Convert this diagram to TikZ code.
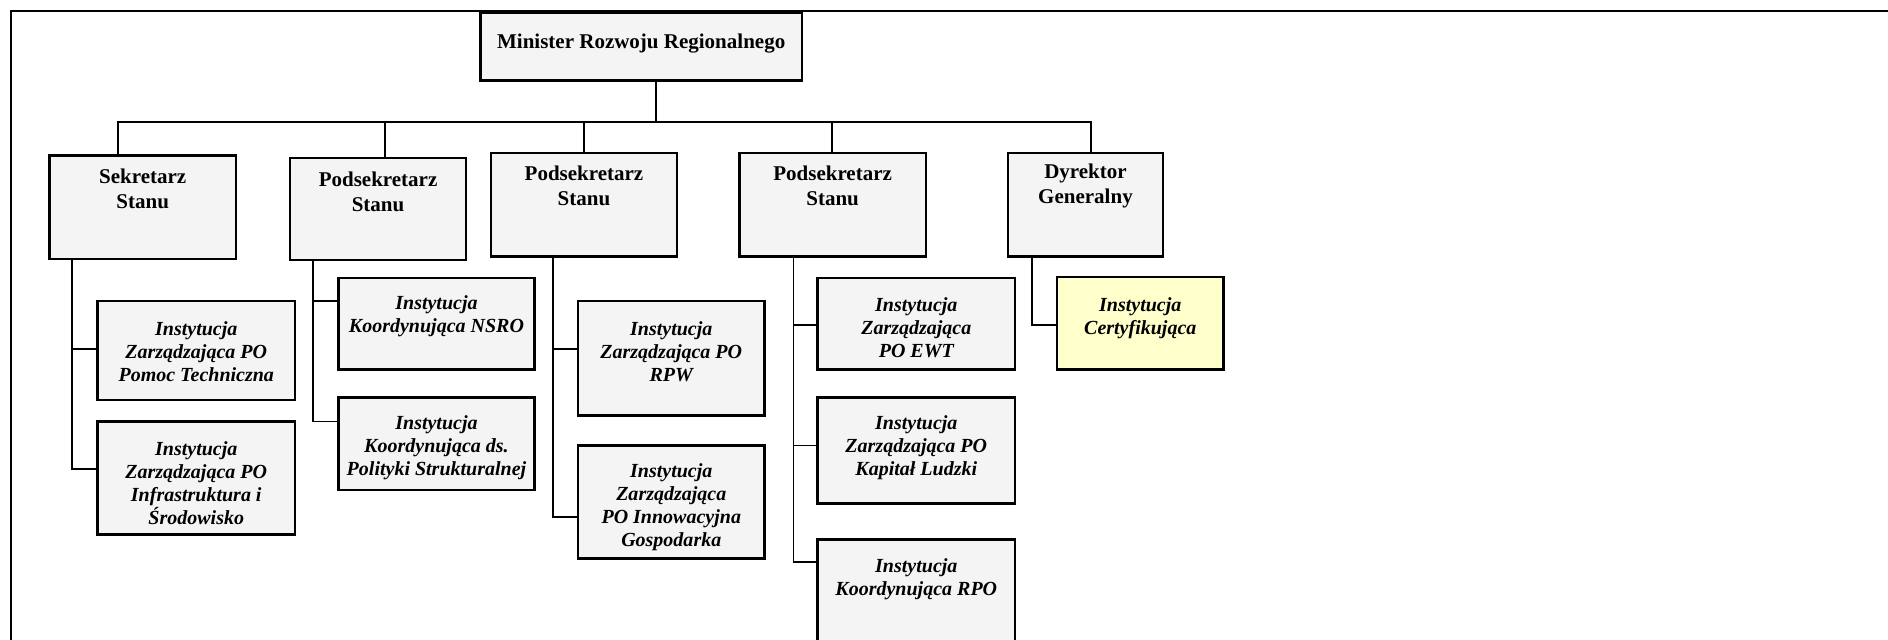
\documentclass[tikz,border=0pt]{standalone}
\usepackage{fontspec}
\setmainfont{Liberation Serif}
\usetikzlibrary{fit}
\definecolor{boxgray}{HTML}{F4F4F4}
\definecolor{certyellow}{HTML}{FFFFCC}
\tikzset{
  box/.style={draw, line width=2.4pt, fill=boxgray, inner sep=0pt},
  certbox/.style={box, fill=certyellow},
  hdr/.style={font=\fontsize{21}{25}\selectfont\bfseries, align=center, inner sep=0pt},
  inst/.style={font=\fontsize{20}{23}\selectfont\bfseries\itshape, align=center, inner sep=0pt},
  conn/.style={line width=1.8pt},
  frame/.style={line width=2pt}
}
\begin{document}
\begin{tikzpicture}[x=1.204pt,y=-1.204pt]
\useasboundingbox (0,0) rectangle (1568,531);
\clip (0,0) rectangle (1568,531);
% frame
\coordinate (fTL) at (9,9);
\coordinate (fTR) at (1570,9);
\coordinate (fBL) at (9,535);
\draw[frame] (fBL) -- (fTL) -- (fTR);
% boxes
\node[box, fit={(399,11)(666,67)}] (min) {};
\node[box, fit={(41,129)(196,215)}] (sek) {};
\node[box, fit={(241,131)(387,216)}] (p1) {};
\node[box, fit={(408,127)(562,213)}] (p2) {};
\node[box, fit={(614,127)(769,213)}] (p3) {};
\node[box, fit={(837,127)(966,213)}] (dyr) {};
\node[box, fit={(81,250)(245,332)}] (c11) {};
\node[box, fit={(81,350)(245,444)}] (c12) {};
\node[box, fit={(281,231)(444,307)}] (c21) {};
\node[box, fit={(281,330)(444,407)}] (c22) {};
\node[box, fit={(480,250)(635,345)}] (c31) {};
\node[box, fit={(480,370)(635,464)}] (c32) {};
\node[box, fit={(679,231)(843,307)}] (c41) {};
\node[box, fit={(679,330)(843,418)}] (c42) {};
\node[box, fit={(679,448)(843,560)}] (c43) {};
\node[certbox, fit={(878,230)(1016,307)}] (c51) {};
% texts
\node[hdr] (tmin) at (532.5,36) {Minister Rozwoju Regionalnego};
\node[hdr] (tsek) at (118.5,157) {Sekretarz\\Stanu};
\node[hdr] (tp1) at (314,159) {Podsekretarz\\Stanu};
\node[hdr] (tp2) at (485,154.5) {Podsekretarz\\Stanu};
\node[hdr] (tp3) at (691.5,154.5) {Podsekretarz\\Stanu};
\node[hdr] (tdyr) at (901.5,154.5) {Dyrektor\\Generalny};
\node[inst] (t11) at (163,292) {Instytucja\\Zarządzająca PO\\Pomoc Techniczna};
\node[inst] (t12) at (163,401) {Instytucja\\Zarządzająca PO\\Infrastruktura i\\Środowisko};
\node[inst] (t21) at (362.5,263) {Instytucja\\Koordynująca NSRO};
\node[inst] (t22) at (362.5,372) {Instytucja\\Koordynująca ds.\\Polityki Strukturalnej};
\node[inst] (t31) at (557.5,292) {Instytucja\\Zarządzająca PO\\RPW};
\node[inst] (t32) at (557.5,421) {Instytucja\\Zarządzająca\\PO Innowacyjna\\Gospodarka};
\node[inst] (t41) at (761,272) {Instytucja\\Zarządzająca\\PO EWT};
\node[inst] (t42) at (761,372) {Instytucja\\Zarządzająca PO\\Kapitał Ludzki};
\node[inst] (t43) at (761,481) {Instytucja\\Koordynująca RPO};
\node[inst] (t51) at (947,264.5) {Instytucja\\Certyfikująca};
% top bus
\coordinate (busL) at (98,101);
\coordinate (busR) at (906,101);
\draw[conn] ([xshift=14.5pt]min.south) -- ([xshift=14.5pt]min.south |- busL);
\draw[conn] ([xshift=-24.7pt]sek.north) |- (busR) -- (busR |- dyr.north);
\draw[conn] ([xshift=7.2pt]p1.north) -- ([xshift=7.2pt]p1.north |- busL);
\draw[conn] (p2.north) -- (p2.north |- busL);
\draw[conn] ([xshift=-0.6pt]p3.north) -- ([xshift=-0.6pt]p3.north |- busL);
% sekretarz spine
\draw[conn] ([xshift=24pt]sek.south west) |- ([yshift=8.9pt]c12.west);
\draw[conn] ([yshift=1.2pt]c11.west) -- ++(-20,0);
% podsekretarz 1 spine
\draw[conn] ([xshift=24pt]p1.south west) |- ([yshift=22.3pt]c22.west);
\draw[conn] ([yshift=22.9pt]c21.west) -- ++(-20,0);
% podsekretarz 2 spine
\draw[conn] ([xshift=62.6pt,yshift=3pt]p2.south west) |- ([yshift=-14.5pt]c32.west);
\draw[conn] ([yshift=9pt]c31.west) -- ++(-20,0);
% podsekretarz 3 spine
\draw[conn] ([xshift=55.4pt,yshift=3pt]p3.south west) |- ([yshift=-24pt]c43.north west);
\draw[conn] ([yshift=-1.2pt]c41.west) -- ++(-19,0);
\draw[conn] ([yshift=4.8pt]c42.west) -- ++(-19,0);
% dyrektor spine
\draw[conn] ([xshift=25.3pt]dyr.south west) |- ([yshift=-2pt]c51.west);
\end{tikzpicture}
\end{document}
